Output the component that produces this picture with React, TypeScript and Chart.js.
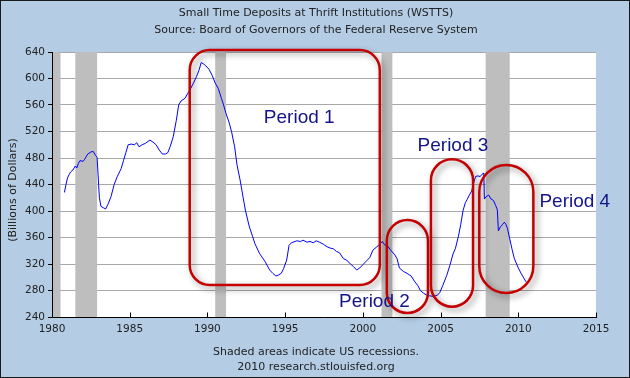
import React, { useEffect, useRef } from 'react';
import { Chart, registerables } from 'chart.js';

Chart.register(...registerables);

// ---- Data ----
const years: number[] = [
  1980.8, 1980.9, 1981.0, 1981.1, 1981.2, 1981.35, 1981.5, 1981.6, 1981.7, 1981.8,
  1982.0, 1982.1, 1982.3, 1982.5, 1982.65, 1982.8, 1982.9, 1983.0, 1983.05, 1983.15,
  1983.3, 1983.45, 1983.6, 1983.8, 1984.0, 1984.2, 1984.45, 1984.6, 1984.75, 1984.9,
  1985.1, 1985.3, 1985.45, 1985.6, 1985.8, 1986.0, 1986.3, 1986.5, 1986.7, 1986.9,
  1987.1, 1987.3, 1987.45, 1987.6, 1987.8, 1988.0, 1988.15, 1988.3, 1988.55, 1988.75,
  1988.9, 1989.1, 1989.3, 1989.45, 1989.6, 1989.75, 1989.9, 1990.1, 1990.3, 1990.5,
  1990.7, 1990.9, 1991.0, 1991.2, 1991.4, 1991.55, 1991.75, 1991.9, 1992.1, 1992.3,
  1992.45, 1992.7, 1992.9, 1993.05, 1993.35, 1993.7, 1994.0, 1994.2, 1994.4, 1994.55,
  1994.75, 1994.9, 1995.1, 1995.25, 1995.4, 1995.75, 1996.0, 1996.15, 1996.4, 1996.6,
  1996.8, 1997.0, 1997.2, 1997.45, 1997.7, 1997.9, 1998.1, 1998.3, 1998.5, 1998.75,
  1998.95, 1999.2, 1999.4, 1999.6, 1999.8, 2000.0, 2000.25, 2000.45, 2000.65, 2000.9,
  2001.1, 2001.25, 2001.4, 2001.6, 2001.75, 2002.05, 2002.2, 2002.35, 2002.6, 2002.9,
  2003.1, 2003.35, 2003.55, 2003.7, 2003.9, 2004.1, 2004.3, 2004.55, 2004.8, 2004.95,
  2005.15, 2005.4, 2005.6, 2005.8, 2005.95, 2006.15, 2006.3, 2006.45, 2006.6, 2006.7,
  2006.85, 2007.0, 2007.1, 2007.25, 2007.4, 2007.55, 2007.65, 2007.75, 2007.78, 2007.82,
  2007.95, 2008.1, 2008.25, 2008.4, 2008.55, 2008.65, 2008.72, 2008.85, 2009.0, 2009.1,
  2009.2, 2009.3, 2009.45, 2009.6, 2009.75, 2010.0, 2010.2, 2010.35, 2010.5,
];

const deposits: number[] = [
  428, 440, 450, 455, 459, 462, 468, 465, 472, 476,
  475, 478, 486, 489, 490, 484, 481, 440, 420, 407,
  405, 403, 410, 422, 440, 452, 464, 476, 488, 500,
  501, 500, 503, 497, 500, 502, 507, 504, 500, 492,
  486, 486, 488, 497, 512, 537, 560, 566, 570, 578,
  584, 593, 603, 612, 624, 622, 619, 614, 605, 593,
  585, 570, 563, 547, 533, 520, 497, 470, 447, 420,
  400, 376, 362, 351, 336, 324, 311, 306, 302, 303,
  306, 313, 326, 348, 352, 355, 354, 356, 353, 354,
  352, 355, 353, 350, 346, 344, 343, 339, 337, 328,
  326, 320, 316, 311, 314, 319, 325, 330, 341, 346,
  350, 354, 349, 347, 342, 334, 328, 314, 309, 305,
  302, 293, 287, 280, 276, 273, 272, 271, 273, 277,
  288, 303, 318, 335, 343, 362, 380, 401, 413, 417,
  424, 430, 440, 452, 453, 452, 455, 457, 456, 418,
  422, 424, 418, 416, 408, 402, 370, 376, 380, 383,
  380, 374, 358, 342, 328, 314, 305, 299, 293,
];

const recessionStart: number[] = [1980.0, 1981.5, 1990.5, 2001.2, 2007.9];
const recessionEnd: number[] = [1980.55, 1982.9, 1991.2, 2001.9, 2009.45];

const xTickValues: number[] = [1980, 1985, 1990, 1995, 2000, 2005, 2010, 2015];
const yTickValues: number[] = [240, 280, 320, 360, 400, 440, 480, 520, 560, 600, 640];

const titleLines: string[] = [
  'Small Time Deposits at Thrift Institutions (WSTTS)',
  'Source: Board of Governors of the Federal Reserve System',
];
const footerLines: string[] = [
  'Shaded areas indicate US recessions.',
  '2010 research.stlouisfed.org',
];
const yAxisTitle = '(Billions of Dollars)';

// Annotation shapes (in data coordinates)
const periodNames: string[] = ['Period 1', 'Period 2', 'Period 3', 'Period 4'];
const boxX0: number[] = [1988.86, 2001.54, 2004.38, 2007.49];
const boxX1: number[] = [2001.09, 2004.19, 2007.09, 2010.97];
const boxYTop: number[] = [643, 386.4, 478, 469.4];
const boxYBottom: number[] = [288.3, 246, 255.6, 276.2];
const labelX: number[] = [1993.63, 1998.47, 2003.52, 2011.36];
const labelY: number[] = [533.3, 255.6, 491, 406.5];

const BG = '#b4cde5';
const FONT = '"DejaVu Sans", Verdana, sans-serif';

const decorPlugin = {
  id: 'decor',
  beforeDraw(chart: any) {
    const { ctx, chartArea: a } = chart;
    ctx.save();
    ctx.fillStyle = BG;
    ctx.fillRect(0, 0, chart.width, chart.height);
    ctx.fillStyle = '#ffffff';
    ctx.fillRect(a.left, a.top, a.right - a.left, a.bottom - a.top);
    ctx.restore();
  },
  beforeDatasetsDraw(chart: any) {
    const { ctx, chartArea: a, scales } = chart;
    const xs = scales.x;
    ctx.save();
    ctx.fillStyle = '#bebebe';
    for (let i = 0; i < recessionStart.length; i++) {
      const x0 = Math.max(a.left, xs.getPixelForValue(recessionStart[i]));
      const x1 = Math.min(a.right, xs.getPixelForValue(recessionEnd[i]));
      ctx.fillRect(x0, a.top, x1 - x0, a.bottom - a.top);
    }
    ctx.restore();
  },
  afterDatasetsDraw(chart: any) {
    const { ctx, chartArea: a, scales } = chart;
    const xs = scales.x;
    const ys = scales.y;
    ctx.save();
    // axes
    ctx.strokeStyle = '#000000';
    ctx.lineWidth = 1;
    const L = Math.round(a.left) + 0.5;
    const B = Math.round(a.bottom) + 0.5;
    ctx.beginPath();
    ctx.moveTo(L, Math.round(a.top));
    ctx.lineTo(L, B);
    ctx.lineTo(Math.round(a.right) + 1, B);
    ctx.stroke();
    // inward x ticks
    ctx.beginPath();
    for (const v of xTickValues) {
      const px = Math.round(xs.getPixelForValue(v)) + 0.5;
      ctx.moveTo(px, B);
      ctx.lineTo(px, B - 5);
    }
    ctx.stroke();

    // annotation shapes
    ctx.shadowColor = 'rgba(0,0,0,0.45)';
    ctx.shadowBlur = 6;
    ctx.shadowOffsetX = 3;
    ctx.shadowOffsetY = 3;
    ctx.strokeStyle = '#c40000';
    ctx.lineWidth = 2.5;
    for (let i = 0; i < periodNames.length; i++) {
      const x0 = xs.getPixelForValue(boxX0[i]);
      const x1 = xs.getPixelForValue(boxX1[i]);
      const y0 = ys.getPixelForValue(boxYTop[i]);
      const y1 = ys.getPixelForValue(boxYBottom[i]);
      const w = x1 - x0;
      const h = y1 - y0;
      const r = i === 0 ? 20 : w / 2;
      ctx.beginPath();
      (ctx as any).roundRect(x0, y0, w, h, r);
      ctx.stroke();
    }
    ctx.shadowColor = 'transparent';
    ctx.shadowBlur = 0;
    ctx.shadowOffsetX = 0;
    ctx.shadowOffsetY = 0;
    ctx.fillStyle = '#14148a';
    ctx.font = '19px "Liberation Sans", Arial, sans-serif';
    ctx.textAlign = 'left';
    ctx.textBaseline = 'alphabetic';
    for (let i = 0; i < periodNames.length; i++) {
      ctx.fillText(periodNames[i], xs.getPixelForValue(labelX[i]), ys.getPixelForValue(labelY[i]));
    }
    ctx.restore();
  },
  afterDraw(chart: any) {
    const { ctx } = chart;
    ctx.save();
    ctx.fillStyle = '#222222';
    ctx.font = `11px ${FONT}`;
    ctx.textAlign = 'center';
    ctx.textBaseline = 'middle';
    ctx.fillText(titleLines[0], 316, 13);
    ctx.fillText(titleLines[1], 316, 30);
    ctx.fillText(footerLines[0], 316, 352);
    ctx.fillText(footerLines[1], 316, 367);
    ctx.save();
    ctx.translate(13, 190);
    ctx.rotate(-Math.PI / 2);
    ctx.fillText(yAxisTitle, 0, 0);
    ctx.restore();
    // outer border
    ctx.strokeStyle = '#1a1a1a';
    ctx.lineWidth = 1;
    ctx.strokeRect(0.5, 0.5, chart.width - 1, chart.height - 1);
    ctx.restore();
  },
};

export default function App() {
  const canvasRef = useRef<HTMLCanvasElement | null>(null);

  useEffect(() => {
    if (!canvasRef.current) return;
    const points = years.map((x, i) => ({ x, y: deposits[i] }));
    const chart = new Chart(canvasRef.current, {
      type: 'line',
      data: {
        datasets: [
          {
            data: points,
            borderColor: '#0000ff',
            borderWidth: 1,
            pointRadius: 0,
            tension: 0,
            fill: false,
          },
        ],
      },
      options: {
        responsive: false,
        animation: false,
        events: [],
        layout: { padding: { top: 52, right: 34, left: 0, bottom: 0 } },
        plugins: {
          legend: { display: false },
          tooltip: { enabled: false },
          title: { display: false },
        },
        scales: {
          x: {
            type: 'linear',
            min: 1980,
            max: 2015,
            afterBuildTicks: (s: any) => {
              s.ticks = xTickValues.map((v) => ({ value: v }));
            },
            afterFit: (s: any) => {
              s.height = 61;
            },
            grid: { display: false, drawTicks: false, tickLength: 0 },
            border: { display: false },
            ticks: {
              color: '#222222',
              font: { family: FONT, size: 10.5 },
              padding: 6,
              maxRotation: 0,
              autoSkip: false,
              callback: (v: any) => String(v),
            },
          },
          y: {
            type: 'linear',
            min: 240,
            max: 640,
            afterBuildTicks: (s: any) => {
              s.ticks = yTickValues.map((v) => ({ value: v }));
            },
            afterFit: (s: any) => {
              s.width = 52;
            },
            grid: { color: '#a8a8a8', tickColor: '#000000', tickLength: 4, drawTicks: true, lineWidth: 1 },
            border: { display: false },
            ticks: {
              color: '#222222',
              font: { family: FONT, size: 10.5 },
              padding: 3,
              autoSkip: false,
              callback: (v: any) => String(v),
            },
          },
        },
      },
      plugins: [decorPlugin],
    });
    return () => chart.destroy();
  }, []);

  return (
    <div style={{ position: 'absolute', left: 0, top: 0, width: 630, height: 378 }}>
      <canvas ref={canvasRef} width={630} height={378} style={{ width: 630, height: 378, display: 'block' }} />
    </div>
  );
}
